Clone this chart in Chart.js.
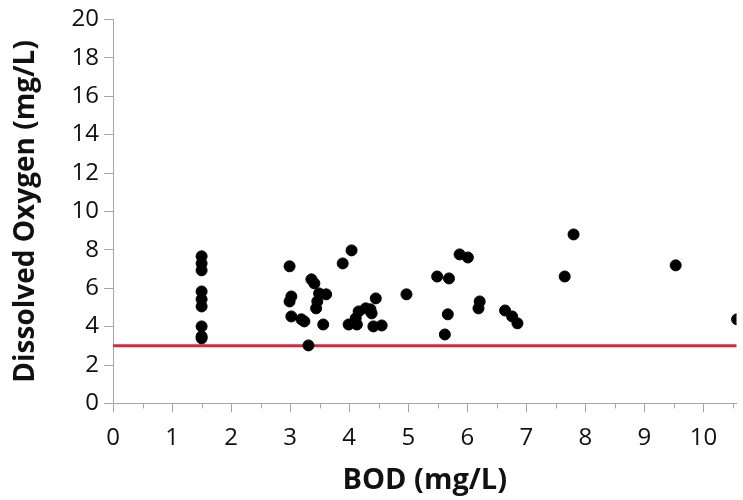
<!DOCTYPE html>
<html>
<head>
<meta charset="utf-8">
<script src="https://cdn.jsdelivr.net/npm/chart.js@4"></script>
<style>
  html, body { margin: 0; padding: 0; background: #fff; }
  #wrap { width: 743px; height: 500px; }
</style>
</head>
<body>
<div id="wrap"><canvas id="chart" width="743" height="500"></canvas></div>
<script>
// BOD vs dissolved oxygen readings
const bod = [
  1.5, 1.5, 1.5, 1.5, 1.5, 1.5, 1.5, 1.5, 1.5,
  2.99, 3.02, 2.99, 3.02, 3.19, 3.24, 3.36, 3.41, 3.49, 3.61, 3.46, 3.44, 3.56, 3.31,
  3.89, 4.04,
  4.16, 4.28, 4.36, 4.11, 3.99, 4.13, 4.38, 4.45, 4.41, 4.55,
  4.97, 5.49, 5.69, 5.67, 5.62, 5.87, 6.01, 6.21, 6.19,
  6.64, 6.76, 6.85, 7.65, 7.80, 9.53, 10.57
];
const dissolvedOxygen = [
  7.66, 7.29, 6.93, 5.83, 5.42, 5.05, 4.01, 3.49, 3.39,
  7.14, 5.57, 5.31, 4.53, 4.38, 4.27, 6.46, 6.25, 5.73, 5.68, 5.31, 4.95, 4.11, 3.02,
  7.29, 7.97,
  4.79, 4.95, 4.90, 4.43, 4.11, 4.11, 4.69, 5.47, 4.01, 4.06,
  5.68, 6.61, 6.51, 4.64, 3.59, 7.76, 7.60, 5.31, 4.95,
  4.84, 4.53, 4.17, 6.61, 8.80, 7.19, 4.38
];
const limitLevel = 3;
const xTicks = [0, 1, 2, 3, 4, 5, 6, 7, 8, 9, 10];
const yTicks = [0, 2, 4, 6, 8, 10, 12, 14, 16, 18, 20];

const axisGray = '#a6a6a6';
const fontFamily = '"Open Sans", "Noto Sans", sans-serif';

// short ticks halfway between the labelled ones on the x axis
const minorTicks = {
  id: 'minorTicks',
  afterDraw(chart) {
    const ctx = chart.ctx;
    const xs = chart.scales.x;
    ctx.save();
    ctx.strokeStyle = axisGray;
    ctx.lineWidth = 1;
    for (let v = 0.5; v < xs.max; v += 1) {
      const px = Math.round(xs.getPixelForValue(v)) + 0.5;
      ctx.beginPath();
      ctx.moveTo(px, xs.top);
      ctx.lineTo(px, xs.top + 5);
      ctx.stroke();
    }
    ctx.restore();
  }
};

const points = bod.map((b, i) => ({ x: b, y: dissolvedOxygen[i] }));

new Chart(document.getElementById('chart').getContext('2d'), {
  type: 'scatter',
  data: {
    datasets: [
      {
        label: 'Limit',
        type: 'line',
        data: [{ x: 0, y: limitLevel }, { x: 10.6, y: limitLevel }],
        borderColor: '#d7263d',
        borderWidth: 3,
        pointRadius: 0,
        order: 2
      },
      {
        label: 'Samples',
        data: points,
        backgroundColor: '#000',
        borderColor: '#000',
        pointRadius: 5.5,
        pointHoverRadius: 5.5,
        order: 1
      }
    ]
  },
  options: {
    responsive: false,
    animation: false,
    layout: { padding: { top: 6, right: 0, left: 9, bottom: 2 } },
    plugins: { legend: { display: false }, tooltip: { enabled: false } },
    scales: {
      x: {
        type: 'linear',
        min: 0,
        max: 10.56,
        afterBuildTicks: s => { s.ticks = xTicks.map(v => ({ value: v })); },
        grid: { drawOnChartArea: false, drawTicks: true, tickLength: 9, color: axisGray },
        border: { display: true, color: axisGray, width: 1 },
        ticks: { color: '#111', padding: 11, font: { family: fontFamily, size: 24 } },
        title: {
          display: true,
          text: 'BOD (mg/L)',
          color: '#111',
          padding: { top: 0, bottom: 0 },
          font: { family: fontFamily, size: 29, weight: 'bold' }
        }
      },
      y: {
        min: 0,
        max: 20,
        afterBuildTicks: s => { s.ticks = yTicks.map(v => ({ value: v })); },
        grid: { drawOnChartArea: false, drawTicks: true, tickLength: 9, color: axisGray },
        border: { display: true, color: axisGray, width: 1 },
        ticks: { color: '#111', padding: 5, font: { family: fontFamily, size: 24 } },
        title: {
          display: true,
          text: 'Dissolved Oxygen (mg/L)',
          color: '#111',
          padding: { top: 0, bottom: 24 },
          font: { family: fontFamily, size: 28, weight: 'bold' }
        }
      }
    }
  },
  plugins: [minorTicks]
});
</script>
</body>
</html>
